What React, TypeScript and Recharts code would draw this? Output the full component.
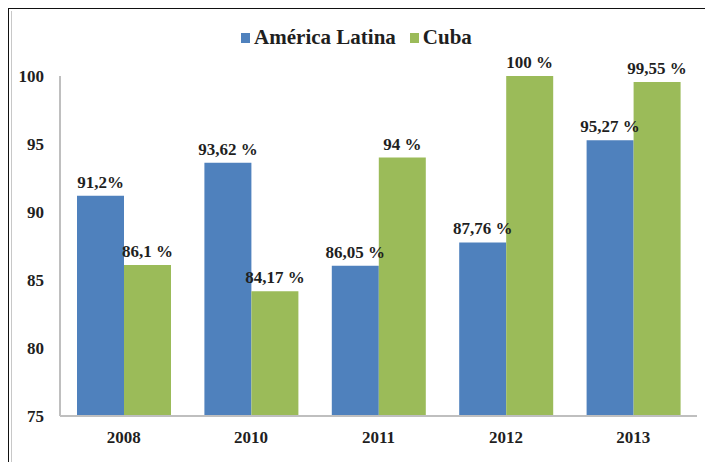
import React from "react";
import { BarChart, Bar, XAxis, YAxis, LabelList } from "recharts";

const years = ["2008", "2010", "2011", "2012", "2013"];
const latinValues = [91.2, 93.62, 86.05, 87.76, 95.27];
const cubaValues = [86.1, 84.17, 94, 100, 99.55];
const latinLabels = ["91,2%", "93,62 %", "86,05 %", "87,76 %", "95,27 %"];
const cubaLabels = ["86,1 %", "84,17 %", "94 %", "100 %", "99,55 %"];
const yTicks = [75, 80, 85, 90, 95, 100];

const data = years.map((y, i) => ({
  year: y,
  latin: latinValues[i],
  cuba: cubaValues[i],
  latinLabel: latinLabels[i],
  cubaLabel: cubaLabels[i],
}));

const FONT = "'Liberation Serif', 'DejaVu Serif', 'Times New Roman', serif";
const BLUE = "#4F81BD";
const GREEN = "#9BBB59";
const TEXT = "#1f1f1f";

const renderLabel = (props: any) => {
  const { x, y, width, value } = props;
  return (
    <text
      x={x + width / 2}
      y={y - 8}
      textAnchor="middle"
      fontFamily={FONT}
      fontWeight="bold"
      fontSize={17}
      fill={TEXT}
    >
      {value}
    </text>
  );
};

export default function App() {
  return (
    <div style={{ position: "relative", width: 713, height: 470, margin: -8, background: "#fff", overflow: "hidden" }}>
      <div style={{ position: "absolute", left: 6, top: 6, width: 720, height: 460, borderLeft: "3px solid #111", borderTop: "3px solid #111" }} />
      <div style={{ position: "absolute", left: 11, top: 11, width: 720, height: 455, borderLeft: "1px solid #c8c8c8", borderBottom: "1px solid #c8c8c8" }} />
      <div
        style={{
          position: "absolute",
          top: 25,
          left: 0,
          width: 713,
          display: "flex",
          justifyContent: "center",
          alignItems: "center",
          fontFamily: FONT,
          fontWeight: "bold",
          fontSize: 21,
          color: TEXT,
        }}
      >
        <span style={{ display: "inline-block", width: 9, height: 10, background: BLUE, marginRight: 4 }} />
        <span style={{ marginRight: 14 }}>América Latina</span>
        <span style={{ display: "inline-block", width: 9, height: 10, background: GREEN, marginRight: 4 }} />
        <span>Cuba</span>
      </div>
      <div style={{ position: "absolute", left: 0, top: 0 }}>
        <BarChart
          width={713}
          height={470}
          data={data}
          margin={{ top: 76, right: 16, bottom: 24, left: 0 }}
          barCategoryGap={17}
          barGap={0}
        >
          <XAxis
            dataKey="year"
            height={30}
            axisLine={{ stroke: "#bfbfbf", strokeWidth: 2 }}
            tickLine={false}
            tick={{ fontFamily: FONT, fontWeight: "bold", fontSize: 17, fill: TEXT }}
            dy={7}
          />
          <YAxis
            width={60}
            domain={[75, 100]}
            ticks={yTicks}
            axisLine={{ stroke: "#bfbfbf", strokeWidth: 2 }}
            tickLine={false}
            tick={{ fontFamily: FONT, fontWeight: "bold", fontSize: 17, fill: TEXT }}
            dx={-8}
          />
          <Bar dataKey="latin" fill={BLUE} isAnimationActive={false}>
            <LabelList dataKey="latinLabel" content={renderLabel} />
          </Bar>
          <Bar dataKey="cuba" fill={GREEN} isAnimationActive={false}>
            <LabelList dataKey="cubaLabel" content={renderLabel} />
          </Bar>
        </BarChart>
      </div>
    </div>
  );
}
